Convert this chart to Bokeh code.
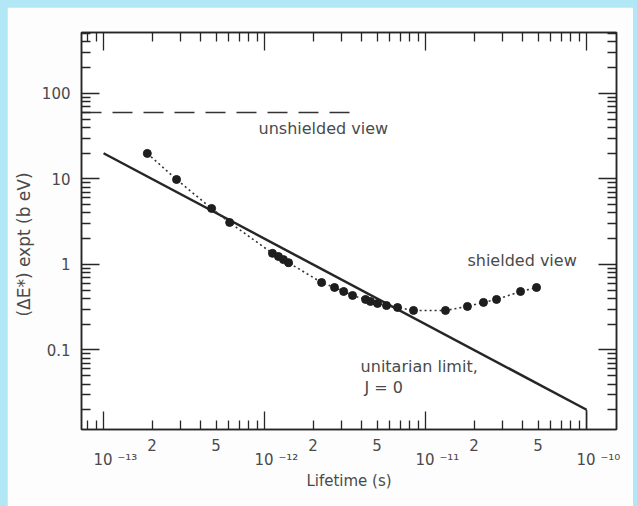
from bokeh.plotting import figure
from bokeh.models import LogAxis, FixedTicker, Label, Range1d
from bokeh.layouts import column
from bokeh.embed import file_html
from bokeh.resources import INLINE

# ---- data ----
lifetime_s = [1.87e-13, 2.84e-13, 4.69e-13, 6.07e-13, 1.12e-12, 1.22e-12, 1.31e-12,
              1.41e-12, 2.26e-12, 2.72e-12, 3.10e-12, 3.52e-12, 4.24e-12, 4.55e-12,
              5.03e-12, 5.72e-12, 6.70e-12, 8.42e-12, 1.33e-11, 1.82e-11, 2.29e-11,
              2.76e-11, 3.89e-11, 4.89e-11]
delta_e_bev = [19.9, 9.86, 4.52, 3.10, 1.35, 1.24, 1.14, 1.05, 0.615, 0.538, 0.483,
               0.434, 0.390, 0.369, 0.350, 0.331, 0.314, 0.290, 0.290, 0.323, 0.360,
               0.390, 0.483, 0.538]

limit_lifetime = [1e-13, 1e-10]          # unitarian limit, J = 0
limit_delta_e = [20.0, 0.02]

unshielded_lifetime_end = 3.9e-12        # unshielded view (dashed)
unshielded_delta_e = 60.0

x_decades = [1e-13, 1e-12, 1e-11, 1e-10]
x_decade_labels = ["10 \u207b\u00b9\u00b3", "10 \u207b\u00b9\u00b2",
                   "10 \u207b\u00b9\u00b9", "10 \u207b\u00b9\u2070"]
x_sub_ticks = [2e-13, 5e-13, 2e-12, 5e-12, 2e-11, 5e-11]
x_sub_labels = ["2", "5", "2", "5", "2", "5"]
y_decades = [0.1, 1, 10, 100]
y_decade_labels = ["0.1", "1", "10", "100"]

X0, X1 = 10 ** -13.137, 10 ** -9.814
Y0, Y1 = 10 ** -1.930, 10 ** 2.713

FONT = "DejaVu Sans"
TXT = "#4a4a4a"
INK = "#262626"
NB = "\u00a0"

p = figure(width=626, height=499, x_axis_type="log", y_axis_type="log",
           x_range=Range1d(X0, X1), y_range=Range1d(Y0, Y1),
           output_backend="svg", toolbar_location=None,
           min_border_left=74, min_border_right=17, min_border_top=25,
           min_border_bottom=77,
           background_fill_color="#ffffff", border_fill_color="#fdfdfd")
p.margin = (7, 4, 0, 7)
p.grid.visible = False
p.outline_line_color = INK
p.outline_line_width = 1.5

p.add_layout(LogAxis(), "right")
p.add_layout(LogAxis(), "above")

x_minor = [k * 10.0 ** n for n in range(-14, -9) for k in range(2, 10)
           if X0 <= k * 10.0 ** n <= X1]
y_minor = [k * 10.0 ** n for n in range(-2, 3) for k in range(2, 10)
           if Y0 <= k * 10.0 ** n <= Y1]

for ax in p.xaxis:
    ax.ticker = FixedTicker(ticks=x_decades, minor_ticks=x_minor)
for ax in p.yaxis:
    ax.ticker = FixedTicker(ticks=y_decades, minor_ticks=y_minor)
for ax in p.axis:
    ax.major_tick_in = 18
    ax.major_tick_out = 0
    ax.minor_tick_in = 9
    ax.minor_tick_out = 0
    ax.axis_line_color = INK
    ax.axis_line_width = 1.5
    ax.major_tick_line_color = INK
    ax.major_tick_line_width = 1.3
    ax.minor_tick_line_color = INK
    ax.minor_tick_line_width = 1.3
    ax.axis_label = None

# unlabeled axes: bottom (ticks only), right, top
for ax in [p.below[0], p.right[0], p.above[0]]:
    ax.major_label_text_font_size = "1px"
    ax.major_label_text_alpha = 0
    ax.major_label_standoff = 0

# left axis labels
left = p.left[0]
left.major_label_overrides = {v: t for v, t in zip(y_decades, y_decade_labels)}
left.major_label_standoff = 11
left.major_label_text_font = FONT
left.major_label_text_font_size = "15px"
left.major_label_text_color = TXT
left.major_label_text_baseline = "alphabetic"
left.axis_label = "(\u0394E*) expt (b eV)" + NB * 5
left.axis_label_standoff = 5
left.axis_label_text_font = FONT
left.axis_label_text_font_size = "17px"
left.axis_label_text_font_style = "normal"
left.axis_label_text_color = TXT

# bottom label rows: "2"/"5" row, then decade row with axis title
sub_axis = LogAxis(ticker=FixedTicker(ticks=x_sub_ticks, minor_ticks=[]),
                   major_label_overrides={v: t for v, t in zip(x_sub_ticks, x_sub_labels)})
dec_axis = LogAxis(ticker=FixedTicker(ticks=x_decades, minor_ticks=[]),
                   major_label_overrides={v: NB * 5 + t for v, t in zip(x_decades, x_decade_labels)},
                   axis_label="Lifetime (s)")
for ax, so in [(sub_axis, 9), (dec_axis, -3)]:
    ax.axis_line_alpha = 0
    ax.major_tick_in = 0
    ax.major_tick_out = 0
    ax.minor_tick_in = 0
    ax.minor_tick_out = 0
    ax.major_label_standoff = so
    ax.major_label_text_font = FONT
    ax.major_label_text_font_size = "15px"
    ax.major_label_text_color = TXT
dec_axis.axis_label_standoff = 0
dec_axis.axis_label_text_font = FONT
dec_axis.axis_label_text_font_size = "15px"
dec_axis.axis_label_text_font_style = "normal"
dec_axis.axis_label_text_color = TXT
p.add_layout(sub_axis, "below")
p.add_layout(dec_axis, "below")

# ---- glyphs ----
p.line(limit_lifetime, limit_delta_e, line_width=2.5, color=INK)
p.line([limit_lifetime[-1], limit_lifetime[-1]], [limit_delta_e[-1], Y0],
       line_width=1.5, color=INK)
p.line([X0, unshielded_lifetime_end], [unshielded_delta_e, unshielded_delta_e],
       line_width=1.5, color="#333333", line_dash="20 11")
p.line(lifetime_s, delta_e_bev, line_width=1.6, color="#333333", line_dash="2 3")
p.scatter(lifetime_s, delta_e_bev, size=8, color="#1e1e1e")

# ---- annotations ----
def note(x, y, t):
    p.add_layout(Label(x=x, y=y, text=t, text_align="left", text_baseline="middle",
                       text_font=FONT, text_font_size="16px", text_color=TXT))

note(9.18e-13, 39.0, "unshielded view")
note(1.82e-11, 1.11, "shielded view")
note(3.95e-12, 0.0641, "unitarian limit,")
note(4.18e-12, 0.0364, "J = 0")

page = column(p, styles={"background-color": "#b2e7f6"})
open("out.html", "w").write(file_html(page, INLINE))
